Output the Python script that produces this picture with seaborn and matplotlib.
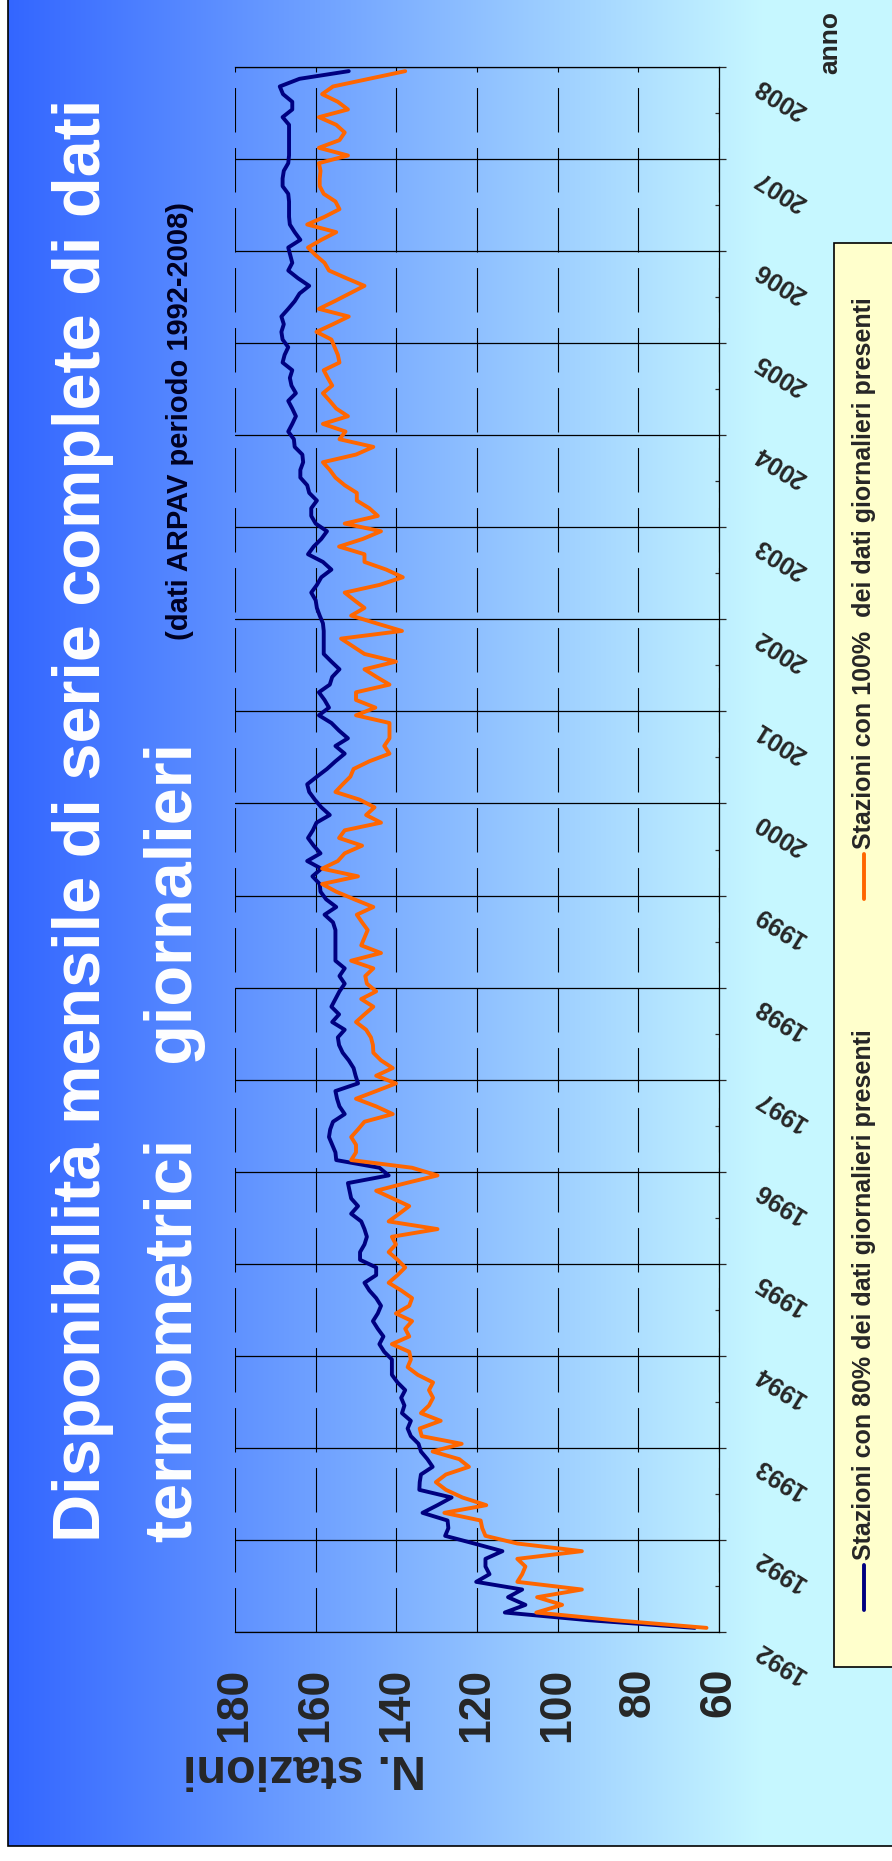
import numpy as np
import pandas as pd
import matplotlib
matplotlib.use('Agg')
import matplotlib.pyplot as plt
import seaborn as sns
from matplotlib.patches import Rectangle
from matplotlib.lines import Line2D
from matplotlib.transforms import ScaledTranslation

sns.set_style('white')
plt.rcParams['font.family'] = ['Liberation Sans', 'DejaVu Sans']
plt.rcParams['font.weight'] = 'bold'

# stazioni con almeno 80% dei dati giornalieri (gen 1992 - dic 2008, una riga per anno)
staz_80 = [
    66.0, 92.3, 113.1, 108.0, 112.3, 108.8, 120.2, 116.9, 117.9, 117.9, 113.7, 120.7,
    127.9, 127.1, 127.3, 133.5, 129.8, 126.3, 134.3, 134.2, 133.9, 131.0, 132.3, 133.9,
    134.5, 136.4, 137.2, 136.4, 138.6, 138.0, 138.8, 137.8, 139.7, 141.1, 141.1, 141.1,
    143.0, 144.2, 143.2, 144.6, 145.8, 144.6, 143.8, 145.0, 146.7, 147.9, 145.0, 145.0,
    149.0, 149.0, 147.9, 147.3, 147.9, 148.7, 151.2, 149.5, 151.2, 151.6, 152.0, 141.9,
    144.2, 154.9, 155.1, 155.9, 156.7, 156.4, 155.7, 152.8, 154.1, 154.7, 155.1, 149.5,
    150.1, 150.6, 151.8, 153.3, 154.2, 154.5, 152.8, 155.9, 154.2, 156.1, 155.1, 154.1,
    152.8, 154.1, 152.8, 155.1, 155.1, 155.1, 155.1, 155.1, 155.7, 157.8, 154.9, 157.4,
    158.8, 159.0, 160.8, 158.6, 162.1, 158.8, 160.5, 161.9, 160.7, 159.8, 156.5, 158.6,
    160.2, 161.6, 162.1, 159.7, 157.2, 155.1, 152.8, 155.1, 152.0, 154.2, 156.1, 159.2,
    156.7, 157.8, 159.2, 156.5, 155.9, 154.1, 156.1, 158.0, 158.0, 158.0, 158.0, 158.2,
    159.0, 159.7, 160.0, 161.1, 159.7, 158.6, 156.1, 158.2, 161.9, 160.5, 158.6, 157.2,
    160.0, 161.1, 161.1, 159.7, 161.6, 162.1, 163.8, 163.8, 163.1, 163.3, 165.2, 165.4,
    166.8, 165.8, 164.9, 165.8, 166.8, 164.9, 166.0, 166.4, 165.8, 168.2, 167.7, 166.8,
    168.2, 168.5, 167.9, 168.5, 166.8, 165.2, 164.0, 161.6, 164.4, 166.8, 165.8, 166.3,
    166.8, 163.8, 165.2, 166.4, 166.6, 166.6, 166.6, 166.8, 168.2, 168.2, 167.9, 166.8,
    166.6, 166.6, 166.6, 166.6, 166.6, 168.2, 165.8, 165.8, 168.1, 168.9, 164.0, 151.8,
]

# stazioni con il 100% dei dati giornalieri
staz_100 = [
    63.1, 86.0, 105.3, 98.9, 105.1, 94.0, 110.0, 108.8, 108.0, 110.0, 94.0, 110.0,
    117.9, 118.7, 119.1, 128.1, 117.7, 123.6, 127.7, 130.2, 127.7, 122.0, 124.4, 131.0,
    123.8, 133.7, 134.2, 129.0, 133.9, 131.9, 130.9, 131.9, 130.9, 134.7, 137.2, 136.4,
    136.8, 141.1, 136.8, 137.8, 136.1, 140.1, 136.8, 136.1, 138.8, 141.9, 139.7, 137.8,
    139.7, 141.9, 140.1, 141.1, 129.8, 141.9, 139.3, 136.8, 140.9, 145.0, 137.6, 129.8,
    136.1, 151.2, 150.0, 150.0, 151.2, 149.5, 147.9, 140.9, 145.0, 150.0, 145.0, 140.1,
    145.0, 140.9, 143.8, 145.7, 145.8, 146.3, 147.5, 150.0, 147.9, 145.7, 148.7, 145.0,
    147.3, 147.7, 145.7, 151.2, 143.8, 148.7, 147.9, 147.1, 148.5, 149.8, 145.7, 150.4,
    154.9, 158.4, 149.5, 158.4, 154.5, 152.8, 148.5, 154.2, 152.8, 143.8, 147.5, 145.4,
    149.1, 155.1, 153.3, 151.4, 150.6, 146.7, 141.7, 143.0, 141.7, 141.7, 141.7, 150.0,
    145.2, 150.0, 150.0, 141.7, 144.9, 147.9, 140.1, 147.9, 150.8, 153.7, 138.6, 145.0,
    151.2, 147.9, 150.4, 152.8, 144.2, 138.4, 142.5, 147.9, 147.9, 154.2, 148.3, 143.8,
    152.8, 144.6, 146.7, 149.8, 149.8, 152.8, 155.1, 156.5, 158.2, 150.0, 145.7, 154.1,
    152.6, 158.2, 152.0, 154.9, 156.5, 158.2, 155.9, 157.0, 158.0, 154.1, 154.5, 155.3,
    156.1, 159.8, 155.7, 151.8, 159.2, 155.3, 151.6, 147.9, 152.4, 156.7, 157.8, 160.0,
    161.9, 158.6, 154.9, 162.1, 157.8, 154.1, 155.1, 158.0, 159.0, 159.0, 158.8, 159.2,
    152.0, 159.2, 154.1, 152.8, 154.9, 159.2, 152.0, 154.5, 158.4, 155.7, 146.7, 137.8,
]

anni = ['1992'] + [str(a) for a in range(1992, 2009)]
valori_asse = [180, 160, 140, 120, 100, 80, 60]

serie_80 = 'Stazioni con 80% dei dati giornalieri presenti'
serie_100 = 'Stazioni con 100%  dei dati giornalieri presenti'
blu = '#000080'
arancio = '#FF6600'

W, H = 892, 1861
fig = plt.figure(figsize=(W / 100, H / 100), dpi=100)

# sfondo sfumato con cornice
bg = fig.add_axes([0, 0, 1, 1], zorder=-5)
bg.set_xlim(0, W)
bg.set_ylim(H, 0)
bg.axis('off')
g = np.clip(np.linspace(0, 1, 900) / 0.84, 0, 1)
c0 = np.array([0.20, 0.40, 1.0])
c1 = np.array([0.78, 0.97, 1.0])
img = c0[None, None, :] + (c1 - c0)[None, None, :] * g[None, :, None]
bg.imshow(img, extent=(8, 908, 1846, 0), aspect='auto')
bg.add_patch(Rectangle((8, -5), 900, 1851, fill=False, ec='black', lw=1.2))

# grafico (ruotato: valori in orizzontale, mesi in verticale)
ax = fig.add_axes([235 / W, (H - 1631.7) / H, 484 / W, 1564.4 / H])
ax.patch.set_alpha(0)

mesi = np.arange(len(staz_80)) + 0.5
df = pd.DataFrame({
    'mese': np.concatenate([mesi, mesi]),
    'valore': staz_80 + staz_100,
    'serie': [serie_80] * len(staz_80) + [serie_100] * len(staz_100),
})
sns.lineplot(data=df, x='valore', y='mese', hue='serie', palette=[blu, arancio],
             orient='y', estimator=None, sort=False, lw=2.8, legend=False, ax=ax)

ax.set_xlim(180, 60)
ax.set_ylim(0, 204)
ax.set_xticks(valori_asse)
ax.set_xticklabels([str(v) for v in valori_asse])
ax.set_yticks(np.arange(0, 205, 12))
ax.set_yticks(np.arange(6, 204, 12), minor=True)
ax.set_yticklabels(anni)
ax.yaxis.tick_right()
ax.set_ylabel('')

ax.grid(axis='x', color='black', lw=0.8, ls=(0, (40, 14)))
ax.grid(axis='y', which='major', color='black', lw=0.9, ls='-')
ax.spines['left'].set_visible(False)
for s in ['top', 'bottom', 'right']:
    ax.spines[s].set_color('black')
    ax.spines[s].set_linewidth(0.9)

ax.tick_params(axis='x', length=0, pad=26, labelsize=32, labelrotation=90)
ax.tick_params(axis='y', which='major', direction='out', length=5, width=0.9,
               pad=0, labelsize=18, labelrotation=148, left=False, right=True)
ax.tick_params(axis='y', which='minor', direction='in', length=3, width=0.9,
               left=False, right=True)

ax.set_xlabel('N. stazioni', fontsize=35, fontweight='bold', rotation=180,
              ha='center', va='center')
ax.xaxis.set_label_coords(0.143, -0.0865)

sposta = ScaledTranslation(0.31, -0.16, fig.dpi_scale_trans)
for lab in ax.get_yticklabels():
    lab.set_ha('right')
    lab.set_va('center')
    lab.set_rotation_mode('anchor')
    lab.set_transform(lab.get_transform() + sposta)

# titoli
fig.text(83 / W, 1 - 1542 / H, 'Disponibilità mensile di serie complete di dati',
         rotation=90, ha='center', va='bottom', fontsize=48, color='white')
fig.text(175 / W, 1 - 1542 / H, 'termometrici    giornalieri',
         rotation=90, ha='center', va='bottom', fontsize=48, color='white')
fig.text(180 / W, 1 - 421 / H, '(dati ARPAV periodo 1992-2008)',
         rotation=90, ha='center', va='center', fontsize=21, color='#000022')
fig.text(830 / W, 1 - 43 / H, 'anno', rotation=90, ha='center', va='center',
         fontsize=19)

# legenda
fig.patches.append(Rectangle((834 / W, 1 - 1667 / H), 80 / W, (1667 - 243) / H,
                             transform=fig.transFigure, fc='#FFFFCC', ec='black',
                             lw=1.2, zorder=3))
t1 = fig.text(864 / W, 1 - 1560 / H, serie_80, rotation=90, ha='center', va='bottom',
              fontsize=18, zorder=5)
t2 = fig.text(864 / W, 1 - 297 / H, serie_100, rotation=90, ha='center', va='top',
              fontsize=18, zorder=5)
fig.canvas.draw()
r = fig.canvas.get_renderer()
for t, col in [(t1, blu), (t2, arancio)]:
    y_start = t.get_window_extent(r).y0 / H
    fig.lines.append(Line2D([864 / W, 864 / W], [y_start - 50 / H, y_start - 5 / H],
                            transform=fig.transFigure, color=col, lw=2.8, zorder=4))

fig.savefig('out.png', dpi=100)
